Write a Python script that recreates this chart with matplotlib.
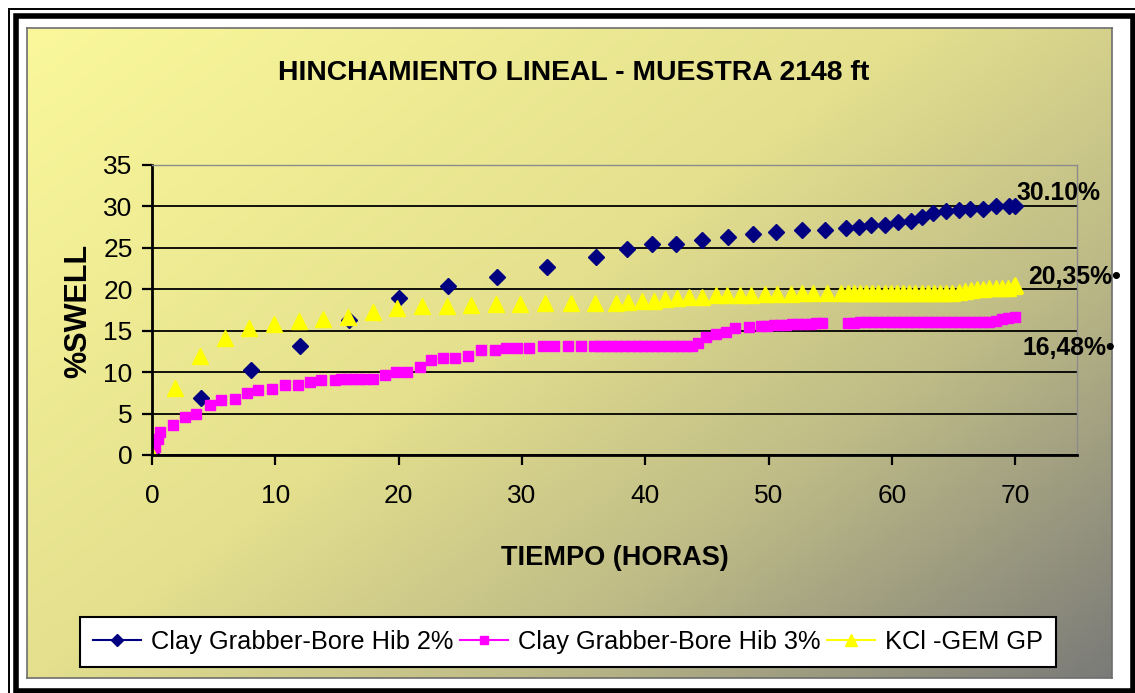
import numpy as np
import matplotlib
matplotlib.use("Agg")
import matplotlib.pyplot as plt
from matplotlib import font_manager
from matplotlib.lines import Line2D
from matplotlib.patches import Rectangle

# ---------------------------------------------------------------- data
blue_t = [0, 4, 8, 12, 16, 20, 24, 28, 32, 36, 38.5, 40.5, 42.5, 44.6, 46.7,
          48.7, 50.6, 52.7, 54.6, 56.3, 57.3, 58.3, 59.4, 60.5, 61.5, 62.4,
          63.3, 64.4, 65.4, 66.3, 67.4, 68.4, 69.5, 70]
blue_v = [0, 6.9, 10.3, 13.2, 16.3, 18.9, 20.4, 21.5, 22.7, 23.9, 24.9, 25.5,
          25.5, 26.0, 26.3, 26.7, 26.95, 27.2, 27.2, 27.4, 27.5, 27.7, 27.8,
          28.1, 28.2, 28.7, 29.2, 29.4, 29.6, 29.7, 29.7, 30.0, 30.0, 30.1]

pink_t = [0, 0.25, 0.45, 0.65, 1.7, 2.7, 3.6, 4.7, 5.6, 6.7, 7.7, 8.6, 9.7,
          10.8, 11.8, 12.8, 13.7, 14.8, 15.3, 15.8, 16.3, 16.8, 17.3, 17.9,
          18.9, 19.8, 20.7, 21.7, 22.6, 23.6, 24.6, 25.6, 26.7, 27.8, 28.7,
          29.6, 30.6, 31.7, 32.6, 33.7, 34.8, 35.8, 36.3, 36.8, 37.3, 37.8,
          38.3, 38.8, 39.3, 39.8, 40.3, 40.8, 41.3, 41.8, 42.3, 42.8, 43.3,
          43.8, 44.3, 44.9, 45.7, 46.5, 47.3, 48.4, 49.4, 49.9, 50.4, 50.9,
          51.4, 51.9, 52.4, 52.9, 53.4, 53.8, 54.3, 56.4, 56.9, 57.4, 57.9,
          58.4, 58.9, 59.4, 59.9, 60.4, 60.9, 61.4, 61.9, 62.4, 62.9, 63.4,
          63.9, 64.4, 64.9, 65.4, 65.9, 66.4, 66.9, 67.4, 67.9, 68.4, 68.9,
          69.4, 70.0]
pink_v = [0, 1.0, 1.9, 2.8, 3.6, 4.6, 5.0, 6.0, 6.6, 6.8, 7.5, 7.8, 8.0,
          8.4, 8.5, 8.8, 9.0, 9.0, 9.2, 9.2, 9.2, 9.2, 9.2, 9.2,
          9.6, 10.0, 10.0, 10.6, 11.5, 11.7, 11.7, 11.9, 12.7, 12.7, 12.9,
          12.9, 12.9, 13.1, 13.1, 13.1, 13.1, 13.1, 13.2, 13.2, 13.2, 13.2,
          13.2, 13.2, 13.2, 13.2, 13.2, 13.2, 13.2, 13.2, 13.2, 13.2, 13.2,
          13.2, 13.5, 14.3, 14.6, 14.9, 15.3, 15.5, 15.6, 15.6, 15.7, 15.7,
          15.7, 15.8, 15.8, 15.8, 15.8, 15.9, 15.9, 15.9, 15.9, 16.0, 16.0,
          16.0, 16.0, 16.0, 16.0, 16.0, 16.0, 16.0, 16.0, 16.0, 16.0, 16.0,
          16.0, 16.0, 16.0, 16.0, 16.0, 16.0, 16.0, 16.0, 16.0, 16.2, 16.4,
          16.5, 16.6]

yellow_t = [0, 1.9, 3.9, 5.9, 7.9, 9.9, 11.9, 13.9, 15.9, 17.9, 19.9, 21.9,
            23.9, 25.9, 27.9, 29.8, 31.9, 34.0, 35.9, 37.6, 38.6, 39.7, 40.7,
            41.6, 42.6, 43.5, 44.6, 45.7, 46.6, 47.7, 48.6, 49.7, 50.7, 51.8,
            52.7, 53.6, 54.7, 55.9, 56.4, 56.9, 57.4, 57.9, 58.4, 58.9, 59.4,
            59.9, 60.4, 60.9, 61.4, 61.9, 62.4, 62.9, 63.4, 63.9, 64.4, 64.9,
            65.4, 65.9, 66.4, 66.9, 67.4, 67.9, 68.4, 68.9, 69.4, 69.9, 70.0]
yellow_v = [0, 8.1, 12.0, 14.1, 15.3, 15.8, 16.2, 16.4, 16.7, 17.3, 17.7, 18.0,
            18.0, 18.1, 18.2, 18.2, 18.3, 18.3, 18.4, 18.4, 18.5, 18.6, 18.6,
            18.8, 19.0, 19.1, 19.1, 19.3, 19.3, 19.3, 19.3, 19.4, 19.4, 19.4,
            19.5, 19.5, 19.5, 19.5, 19.5, 19.5, 19.5, 19.5, 19.5, 19.5, 19.5,
            19.5, 19.5, 19.5, 19.5, 19.5, 19.5, 19.5, 19.6, 19.6, 19.6, 19.6,
            19.7, 19.8, 19.9, 20.0, 20.0, 20.1, 20.1, 20.2, 20.2, 20.35, 20.5]

series_names = ["Clay Grabber-Bore Hib 2%", "Clay Grabber-Bore Hib 3%", "KCl -GEM GP"]
end_labels = ["30.10%", "20,35%", "16,48%"]
x_ticks = [0, 10, 20, 30, 40, 50, 60, 70]
y_ticks = [0, 5, 10, 15, 20, 25, 30, 35]

# ---------------------------------------------------------------- fonts
# the original uses a narrow Arial; if no narrow face is installed,
# shrink the regular one so the text takes about the same width
names = {f.name for f in font_manager.fontManager.ttflist}
if "Liberation Sans Narrow" in names:
    NARROW, K = "Liberation Sans Narrow", 1.0
else:
    NARROW, K = "Liberation Sans", 0.85
REG = "Liberation Sans"

W, H = 1135, 693


def fx(x):
    return x / W


def fy(y):
    return 1 - y / H


fig = plt.figure(figsize=(W / 100, H / 100), dpi=100)
fig.patch.set_facecolor("white")

# outer double frame
fig.patches.append(Rectangle((fx(9), fy(700)), fx(1145) - fx(9), fy(9) - fy(700),
                             transform=fig.transFigure, fill=False,
                             edgecolor="black", linewidth=1.4))
fig.patches.append(Rectangle((fx(15.5), fy(690.5)), fx(1132.5) - fx(15.5), fy(15.5) - fy(690.5),
                             transform=fig.transFigure, fill=False,
                             edgecolor="black", linewidth=4.0))

# chart area gradient (yellow top-left -> grey bottom-right)
bg = fig.add_axes([fx(27), fy(678), fx(1112) - fx(27), fy(28) - fy(678)])
gx, gy = np.meshgrid(np.linspace(0, 1, 300), np.linspace(0, 1, 200))
tt = (gx * 0.55 + gy * 0.45)
stops = [0, 0.45, 0.7, 1.0]
cols = np.array([[250, 248, 155], [228, 224, 142], [190, 187, 135], [122, 122, 120]]) / 255
img = np.dstack([np.interp(tt, stops, cols[:, k]) for k in range(3)])
bg.imshow(img, aspect="auto", extent=[0, 1, 0, 1], origin="upper")
bg.set_xticks([])
bg.set_yticks([])
for s in bg.spines.values():
    s.set_color("#6e6e6e")
    s.set_linewidth(1.2)
bg.set_zorder(0)

# plot axes
ax = fig.add_axes([fx(152), fy(455), fx(1077) - fx(152), fy(165) - fy(455)])
ax.set_zorder(1)
ax.patch.set_alpha(0)

ax.plot(blue_t, blue_v, linestyle="none", marker="D", markersize=8,
        color="#000080", markeredgecolor="#000080")
ax.plot(pink_t, pink_v, linestyle="none", marker="s", markersize=7.5,
        color="#FF00FF", markeredgecolor="#FF00FF")
ax.plot(yellow_t, yellow_v, linestyle="none", marker="^", markersize=11.5,
        color="#FFFF00", markeredgecolor="#FFFF00")

ax.set_xlim(0, 75)
ax.set_ylim(0, 35)
ax.set_xticks(x_ticks)
ax.set_yticks(y_ticks)
ax.grid(axis="y", color="black", linewidth=1.3)
ax.set_axisbelow(True)
ax.tick_params(axis="both", direction="out", length=7, width=1.6, color="black")
ax.tick_params(axis="y", pad=7)
ax.tick_params(axis="x", pad=14)
for lab in ax.get_xticklabels() + ax.get_yticklabels():
    lab.set_fontfamily(REG)
    lab.set_fontsize(19)
for side in ["left", "bottom"]:
    ax.spines[side].set_color("black")
    ax.spines[side].set_linewidth(2)
for side in ["top", "right"]:
    ax.spines[side].set_color("#8c8c8c")
    ax.spines[side].set_linewidth(1)

# end-of-series labels
ax.text(70.1, 31.6, end_labels[0], fontsize=21 * K, fontweight="bold", family=NARROW,
        va="center", ha="left", clip_on=False)
ax.text(71.0, 21.5, end_labels[1] + "\u2022", fontsize=21 * K, fontweight="bold", family=NARROW,
        va="center", ha="left", clip_on=False)
ax.text(70.6, 12.9, end_labels[2] + "\u2022", fontsize=21 * K, fontweight="bold", family=NARROW,
        va="center", ha="left", clip_on=False)

# titles
fig.text(fx(574), fy(80), "HINCHAMIENTO LINEAL - MUESTRA 2148 ft", fontsize=24 * K,
         fontweight="bold", family=NARROW, ha="center", va="baseline")
fig.text(fx(615), fy(565), "TIEMPO (HORAS)", fontsize=23 * K, fontweight="bold",
         family=NARROW, ha="center", va="baseline")
fig.text(fx(78), fy(311), "%SWELL", fontsize=26 * K, fontweight="bold", family=NARROW,
         rotation=90, ha="center", va="center")

# legend
handles = [
    Line2D([], [], color="#000080", marker="D", markersize=6, linewidth=1.5),
    Line2D([], [], color="#FF00FF", marker="s", markersize=6, linewidth=1.5),
    Line2D([], [], color="#FFFF00", marker="^", markersize=8, linewidth=1.5),
]
leg = fig.legend(handles, series_names, loc="center", bbox_to_anchor=(fx(568), fy(642)),
                 ncol=3, frameon=True, fancybox=False,
                 prop={"family": NARROW, "size": 21.5 * K},
                 handlelength=1.9, handletextpad=0.4, columnspacing=0.25,
                 borderpad=0.5, borderaxespad=0)
leg.get_frame().set_edgecolor("black")
leg.get_frame().set_linewidth(1.5)
leg.get_frame().set_facecolor("white")
leg.get_frame().set_alpha(1)

fig.savefig("out.png", dpi=100)
